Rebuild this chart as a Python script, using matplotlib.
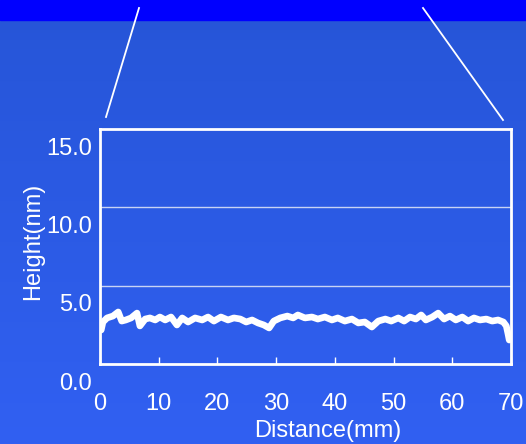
import numpy as np
import matplotlib
matplotlib.use('Agg')
import matplotlib.pyplot as plt
from matplotlib.lines import Line2D
from matplotlib.patches import Rectangle
import matplotlib.transforms as mtransforms

plt.rcParams['font.family'] = ['Liberation Sans', 'DejaVu Sans']

# profile
dist = [0.0, 0.2, 0.5, 1.2, 2.2, 3.1, 3.7, 4.4, 5.3, 6.3, 6.8, 7.7, 8.5, 9.4,
        10.2, 11.1, 12.1, 13.1, 14.0, 15.0, 16.2, 17.4, 18.4, 19.4, 20.6, 21.8,
        22.8, 23.9, 24.9, 25.9, 26.9, 27.9, 28.8, 29.6, 30.7, 31.9, 32.9, 33.7,
        34.9, 36.1, 37.1, 38.3, 39.5, 40.5, 41.7, 42.9, 44.0, 45.1, 46.3, 47.4,
        48.6, 49.6, 50.8, 51.8, 52.8, 53.8, 54.7, 55.5, 56.6, 57.6, 58.6, 59.6,
        60.6, 61.7, 62.7, 63.7, 64.7, 65.8, 66.8, 67.8, 68.7, 69.2, 69.5, 69.7]
height = [2.30, 2.17, 2.68, 2.94, 3.06, 3.32, 2.74, 2.81, 2.94, 3.25, 2.43, 2.87,
          2.94, 2.81, 3.00, 2.81, 3.00, 2.49, 2.94, 2.68, 2.94, 2.81, 3.00, 2.74,
          3.00, 2.81, 2.94, 2.87, 2.68, 2.81, 2.62, 2.49, 2.30, 2.74, 2.94, 3.06,
          2.94, 3.13, 2.94, 3.00, 2.87, 3.00, 2.81, 2.94, 2.74, 2.87, 2.62, 2.68,
          2.36, 2.74, 2.87, 2.74, 2.94, 2.74, 3.00, 2.87, 3.13, 2.81, 3.00, 3.25,
          2.87, 3.06, 2.81, 3.00, 2.74, 2.94, 2.81, 2.87, 2.74, 2.81, 2.68, 2.43,
          1.91, 1.53]
xticks = [0, 10, 20, 30, 40, 50, 60, 70]
yticks = [0, 5, 10, 15]
ylabels = ['0.0', '5.0', '10.0', '15.0']

fig = plt.figure(figsize=(5.26, 4.44), dpi=100)

# background gradient and top band
bg = fig.add_axes([0, 0, 1, 1])
top = np.array([38, 85, 215]) / 255
bot = np.array([49, 96, 242]) / 255
t = np.linspace(0, 1, 256)[:, None]
grad = top + (bot - top) * t
bg.imshow(np.repeat(grad[:, None, :], 2, axis=1), aspect='auto', extent=[0, 1, 0, 1])
bg.set_axis_off()
fig.add_artist(Rectangle((0, 1 - 20 / 444), 1, 20 / 444, transform=fig.transFigure,
                         color='#0000ff', zorder=1))
fig.add_artist(Line2D([139 / 526, 106 / 526], [1 - 8 / 444, 1 - 117 / 444],
                      color='white', lw=1.3, transform=fig.transFigure, zorder=2))
fig.add_artist(Line2D([423 / 526, 503 / 526], [1 - 8 / 444, 1 - 120 / 444],
                      color='white', lw=1.3, transform=fig.transFigure, zorder=2))

ax = fig.add_axes([100 / 526, 80 / 444, 411 / 526, 235 / 444])
ax.patch.set_alpha(0)
ax.plot(dist, height, color='white', lw=4.8, solid_capstyle='round',
        solid_joinstyle='round')
ax.set_xlim(0, 70)
ax.set_ylim(0, 15)
for v in [5, 10]:
    ax.axhline(v, color='#c8d4f4', lw=1)

for s in ax.spines.values():
    s.set_color('white')
    s.set_linewidth(2)

ax.set_xticks(xticks)
ax.set_yticks(yticks)
ax.set_yticklabels(ylabels)
ax.tick_params(axis='x', direction='in', length=5, width=1, color='white',
               labelcolor='white', labelsize=17, pad=21)
ax.tick_params(axis='y', length=0, labelcolor='white', labelsize=17, pad=6)
off = mtransforms.ScaledTranslation(0, -17 / 100, fig.dpi_scale_trans)
for lab in ax.get_yticklabels():
    lab.set_transform(lab.get_transform() + off)

ax.set_xlabel('Distance(mm)', color='white', fontsize=17)
ax.xaxis.set_label_coords(0.555, -0.238)
ax.set_ylabel('Height(nm)', color='white', fontsize=17)
ax.yaxis.set_label_coords(-0.137, 0.52)

fig.savefig('out.png', dpi=100)
